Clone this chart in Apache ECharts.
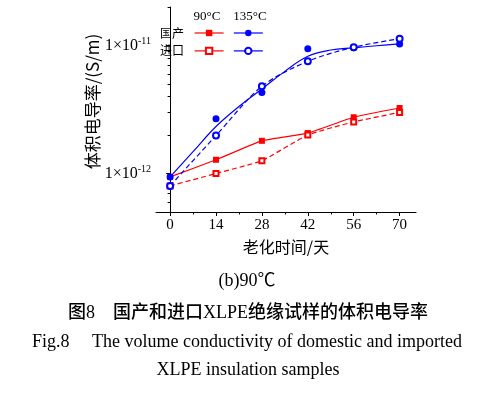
<!DOCTYPE html>
<html><head><meta charset="utf-8">
<script src="https://cdn.jsdelivr.net/npm/echarts@6/dist/echarts.min.js"></script>
<style>html,body{margin:0;padding:0;background:#fff}#c{width:500px;height:394px}</style>
</head><body><div id="c"></div>
<script>
// Aging time (days)
const days = [0, 14, 28, 42, 56, 70];
// Volume conductivity (S/m)
const dom90  = [9.4e-13, 1.28e-12, 1.80e-12, 2.07e-12, 2.75e-12, 3.25e-12];
const imp90  = [8.0e-13, 1.00e-12, 1.26e-12, 2.00e-12, 2.53e-12, 3.00e-12];
const dom135 = [9.4e-13, 2.68e-12, 4.30e-12, 9.42e-12, 9.59e-12, 1.03e-11];
const imp135 = [8.0e-13, 1.98e-12, 4.80e-12, 7.53e-12, 9.70e-12, 1.13e-11];
// fitted curve for domestic 135°C
const fitDays = [0, 7, 14, 21, 28, 35, 42, 49, 56, 63, 70];
const dom135Fit = [9.4e-13, 1.48e-12, 2.33e-12, 3.34e-12, 4.57e-12, 6.28e-12, 8.24e-12, 9.22e-12, 9.59e-12, 9.96e-12, 1.03e-11];
// ticks
const xTickLabels = [0, 14, 28, 42, 56, 70];
const xMinorTicks = [7, 21, 35, 49, 63];
const yTickLabels = [1e-12, 1e-11];
const yMinorTicks = [6e-13, 7e-13, 8e-13, 9e-13, 2e-12, 3e-12, 4e-12, 5e-12, 6e-12, 7e-12, 8e-12, 9e-12, 2e-11];

const SERIF = '"Liberation Serif","Noto Sans CJK SC",serif';
const CJK = '"Noto Sans CJK SC","Liberation Serif",sans-serif';
const MIXED = '"Liberation Serif","Noto Sans CJK SC",serif';
const RED = '#ff0000', BLUE = '#0000ff';
const pairs = (xs, ys) => xs.map((x, i) => [x, ys[i]]);
const XMIN = -4.3, XMAX = 75, YMIN = 5e-13, YMAX = 2e-11;

const chart = echarts.init(document.getElementById('c'), null, {renderer: 'canvas'});
const option = {
  animation: false,
  backgroundColor: '#fff',
  grid: {left: 156, right: 84, top: 7, bottom: 182, containLabel: false},
  xAxis: [
    {type: 'value', min: XMIN, max: XMAX, position: 'bottom',
     axisLine: {lineStyle: {color: '#000', width: 1}},
     axisTick: {customValues: xTickLabels, length: 4, inside: false, lineStyle: {color: '#000'}},
     axisLabel: {customValues: xTickLabels, fontFamily: SERIF, fontSize: 15, color: '#000', margin: 6},
     splitLine: {show: false},
     name: '老化时间/天', nameLocation: 'middle', nameGap: 27, nameMoveOverlap: false,
     nameTextStyle: {fontFamily: CJK, fontSize: 16, color: '#000'}},
    {type: 'value', min: XMIN, max: XMAX, position: 'bottom',
     axisLine: {show: false},
     axisTick: {customValues: xMinorTicks, length: 2.5, lineStyle: {color: '#000'}},
     axisLabel: {show: false}, splitLine: {show: false}}
  ],
  yAxis: [
    {type: 'log', logBase: 10, min: YMIN, max: YMAX, position: 'left',
     axisLine: {show: true, lineStyle: {color: '#000', width: 1}},
     axisTick: {show: true, customValues: yTickLabels, length: 4, lineStyle: {color: '#000'}},
     axisLabel: {customValues: yTickLabels, margin: 5, color: '#000', fontFamily: SERIF, fontSize: 16, lineHeight: 18,
       formatter: v => '1×10{s|' + Math.round(Math.log10(v)) + '}',
       rich: {s: {fontFamily: SERIF, fontSize: 10, lineHeight: 10, verticalAlign: 'top', color: '#000'}}},
     splitLine: {show: false},
     name: '体积电导率/(S/m)', nameLocation: 'middle', nameGap: 55, nameMoveOverlap: false,
     nameTextStyle: {fontFamily: CJK, fontSize: 17, color: '#000', padding: [0, 0, 0, 16]}},
    {type: 'log', logBase: 10, min: YMIN, max: YMAX, position: 'left',
     axisLine: {show: false},
     axisTick: {show: true, customValues: yMinorTicks, length: 2.5, lineStyle: {color: '#000'}},
     axisLabel: {show: false}, splitLine: {show: false}}
  ],
  legend: [
    {left: 194, top: 29, padding: 0, itemWidth: 29, itemHeight: 8, itemGap: 9, selectedMode: false,
     formatter: () => '',
     data: [
       {name: '国产 90°C', lineStyle: {type: 'solid', width: 1.2, opacity: 1, color: RED}},
       {name: '国产 135°C', lineStyle: {type: 'solid', width: 1.2, opacity: 1, color: BLUE}}
     ]},
    {left: 194, top: 46.7, padding: 0, itemWidth: 29, itemHeight: 8, itemGap: 9, selectedMode: false,
     formatter: () => '',
     data: [
       {name: '进口 90°C', lineStyle: {type: 'solid', width: 1.2, opacity: 1, color: RED}},
       {name: '进口 135°C', lineStyle: {type: 'solid', width: 1.2, opacity: 1, color: BLUE}}
     ]}
  ],
  series: [
    {name: '国产 90°C', type: 'line', data: pairs(days, dom90), smooth: 0.15,
     symbol: 'rect', symbolSize: 6, color: RED,
     itemStyle: {color: RED}, lineStyle: {color: RED, width: 1.2}, z: 2},
    {name: '进口 90°C', type: 'line', data: pairs(days, imp90), smooth: 0.15,
     symbol: 'emptyRect', symbolSize: 5, color: RED,
     itemStyle: {color: RED, borderWidth: 1.3}, lineStyle: {color: RED, width: 1.2, type: [5, 3]}, z: 2},
    {name: '国产 135°C 拟合', type: 'line', data: pairs(fitDays, dom135Fit), smooth: 0.4,
     showSymbol: false, symbol: 'none', color: BLUE, lineStyle: {color: BLUE, width: 1.2}, z: 3},
    {name: '国产 135°C', type: 'line', data: pairs(days, dom135),
     symbol: 'circle', symbolSize: 7, color: BLUE,
     itemStyle: {color: BLUE}, lineStyle: {width: 0, opacity: 0}, z: 4},
    {name: '进口 135°C', type: 'line', data: pairs(days, imp135), smooth: 0.3,
     symbol: 'emptyCircle', symbolSize: 6, color: BLUE,
     itemStyle: {color: BLUE, borderWidth: 1.3}, lineStyle: {color: BLUE, width: 1.2, type: [5, 3]}, z: 4}
  ],
  graphic: [
    {type: 'text', x: 207, y: 17, style: {text: '90°C', font: '13px ' + SERIF, fill: '#000', align: 'center', verticalAlign: 'middle'}},
    {type: 'text', x: 250, y: 17, style: {text: '135°C', font: '13px ' + SERIF, fill: '#000', align: 'center', verticalAlign: 'middle'}},
    {type: 'text', x: 160, y: 33, style: {text: '国产', font: '12px ' + CJK, fill: '#000', align: 'left', verticalAlign: 'middle'}},
    {type: 'text', x: 160, y: 50.7, style: {text: '进口', font: '12px ' + CJK, fill: '#000', align: 'left', verticalAlign: 'middle'}},
    {type: 'text', x: 247, y: 281, style: {text: '(b)90℃', font: '18px ' + SERIF, fill: '#000', align: 'center', verticalAlign: 'middle'}},
    {type: 'text', x: 248, y: 313, style: {text: '图8\u3000国产和进口XLPE绝缘试样的体积电导率', font: '500 18px ' + MIXED, fill: '#000', align: 'center', verticalAlign: 'middle'}},
    {type: 'text', x: 247, y: 342, style: {text: 'Fig.8\u2003 The volume conductivity of domestic and imported', font: '18px ' + SERIF, fill: '#000', align: 'center', verticalAlign: 'middle'}},
    {type: 'text', x: 248, y: 370, style: {text: 'XLPE insulation samples', font: '18px ' + SERIF, fill: '#000', align: 'center', verticalAlign: 'middle'}}
  ]
};
chart.setOption(option);
</script>
</body></html>
